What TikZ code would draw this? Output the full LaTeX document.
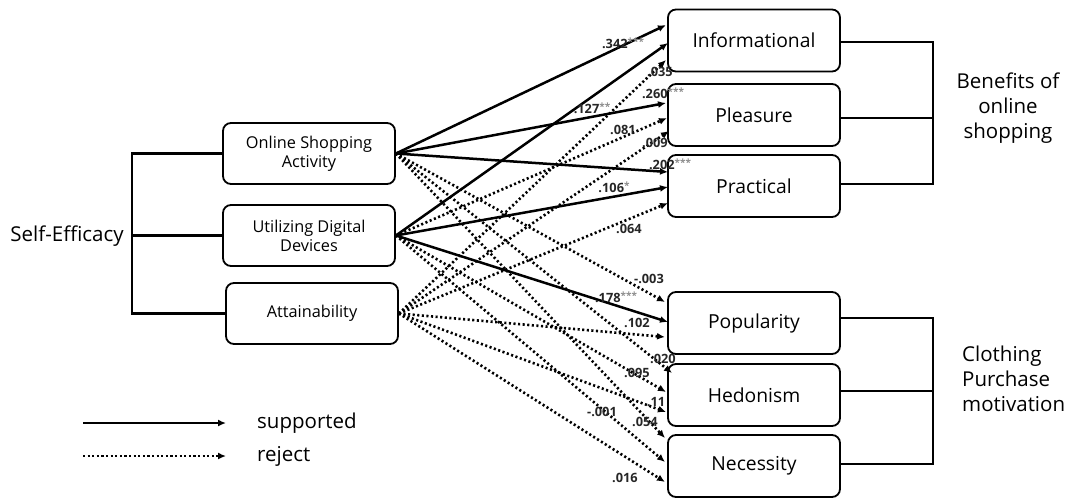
\documentclass[tikz,border=0pt]{standalone}
\usepackage{fontspec}
\setmainfont{Open Sans}
\usetikzlibrary{arrows.meta}
\begin{document}
\begin{tikzpicture}[x=1pt,y=-1pt,
  lbox/.style={draw,line width=1.8pt,rounded corners=8pt,minimum width=172pt,minimum height=61pt,inner sep=0pt,align=center,font=\fontsize{16.3}{19}\selectfont},
  rbox/.style={draw,line width=1.8pt,rounded corners=8pt,minimum width=172pt,minimum height=62pt,inner sep=0pt,font=\fontsize{19.3}{22}\selectfont},
  bigtxt/.style={font=\fontsize{20.5}{25}\selectfont,inner sep=0pt},
  sup/.style={line width=2.5pt,-{Latex[length=8pt,width=7pt]}},
  rej/.style={line width=2.6pt,dash pattern=on 2.1pt off 2.5pt,-{Latex[length=8pt,width=7pt]}},
  brk/.style={line width=2.3pt},
  elab/.style={font=\bfseries\fontsize{12.8}{14}\selectfont,inner sep=0pt,text=black!85}
]
\useasboundingbox (0,0) rectangle (1065,499);
\newcommand{\st}[1]{\raisebox{3pt}{\fontsize{10}{10}\selectfont\textcolor{black!45}{#1}}}
% left boxes
\node[lbox] (osa) at (309,153.5) {Online Shopping\\Activity};
\node[lbox] (udd) at (309,235.5) {Utilizing Digital\\Devices};
\node[lbox] (att) at (312,313.5) {Attainability};
\node[bigtxt] (se) at (67,236) {Self-Efficacy};
\coordinate (lb) at (132,236);
\draw[brk] (osa.west) -| (lb) |- (att.west);
\draw[brk] (udd.west) -- (udd.west -| lb);
% right boxes
\node[rbox] (inf) at (754,40.5) {Informational};
\node[rbox] (ple) at (754,115) {Pleasure};
\node[rbox] (pra) at (754,186) {Practical};
\node[rbox] (pop) at (754,323) {Popularity};
\node[rbox] (hed) at (754,395) {Hedonism};
\node[rbox] (nec) at (754,466) {Necessity};
\coordinate (rb1) at (933,118);
\coordinate (infe) at (840,42);
\coordinate (plee) at (840,118);
\coordinate (prae) at (840,184);
\draw[brk] (infe) -| (rb1) |- (prae);
\draw[brk] (plee) -- (rb1);
\coordinate (pope) at (840,318);
\coordinate (hede) at (840,391);
\coordinate (nece) at (840,464);
\coordinate (rb2) at (933,391);
\draw[brk] (pope) -| (rb2) |- (nece);
\draw[brk] (hede) -- (rb2);
\node[bigtxt,align=center] (ben) at (1008,108) {Benefits of\\online\\shopping};
\node[bigtxt,align=left,anchor=west] (clo) at (962,379) {Clothing\\Purchase\\motivation};
% target points
\coordinate (inf1) at (666,25);  \coordinate (inf2) at (668,43);  \coordinate (inf3) at (666,60);
\coordinate (ple1) at (666,103); \coordinate (ple2) at (667,118); \coordinate (ple3) at (669,131);
\coordinate (pra1) at (668,172); \coordinate (pra2) at (668,187); \coordinate (pra3) at (668,203);
\coordinate (pop1) at (665,302); \coordinate (pop2) at (668,322); \coordinate (pop3) at (665,337);
\coordinate (hed1) at (672,373); \coordinate (hed2) at (666,392); \coordinate (hed3) at (666,412);
\coordinate (nec1) at (665,438); \coordinate (nec2) at (665,462); \coordinate (nec3) at (665,482);
% dotted (rejected)
\draw[rej] (att.east) -- (inf3);
\draw[rej] (udd.east) -- (ple2);
\draw[rej] (att.east) -- (ple3);
\draw[rej] (att.east) -- (pra3);
\draw[rej] (osa.east) -- (pop1);
\draw[rej] (att.east) -- (pop3);
\draw[rej] (osa.east) -- (hed1);
\draw[rej] (udd.east) -- (hed2);
\draw[rej] (att.east) -- (hed3);
\draw[rej] (osa.east) -- (nec1);
\draw[rej] (udd.east) -- (nec2);
\draw[rej] (att.east) -- (nec3);
% solid (supported)
\draw[sup] (osa.east) -- (inf1);
\draw[sup] (udd.east) -- (inf2);
\draw[sup] (osa.east) -- (ple1);
\draw[sup] (osa.east) -- (pra1);
\draw[sup] (udd.east) -- (pra2);
\draw[sup] (udd.east) -- (pop2);
% labels
\node[elab] (l1) at (623,43) {.342\st{***}};
\node[elab] (l2) at (592,108) {.127\st{**}};
\node[elab] (l3) at (660,72) {.035};
\node[elab] (l4) at (663,93) {.260\st{***}};
\node[elab] (l5) at (623,130) {.081};
\node[elab] (l6) at (655,143) {.009};
\node[elab] (l7) at (670,164) {.202\st{***}};
\node[elab] (l8) at (614,187) {.106\st{*}};
\node[elab] (l9) at (629,229) {.064};
\node[elab] (l10) at (649,279) {-.003};
\node[elab] (l11) at (616,297) {.178\st{***}};
\node[elab] (l12) at (637,323) {.102};
\node[elab] (l13) at (663,359) {.020};
\node[elab] (l14) at (637,373) {.095};
\node[elab] (l15) at (656,402) {.11};
\node[elab] (l16) at (602,412) {-.001};
\node[elab] (l17) at (645,422) {.054};
\node[elab] (l18) at (625,478) {.016};
% legend
\coordinate (la1) at (83,423); \coordinate (lb1) at (226,423);
\coordinate (la2) at (83,456); \coordinate (lb2) at (226,456);
\draw[sup,line width=2.2pt] (la1) -- (lb1);
\draw[rej,line width=2.3pt] (la2) -- (lb2);
\node[bigtxt,anchor=west] (ls) at (257,423) {supported};
\node[bigtxt,anchor=west] (lr) at (257,456) {reject};
\end{tikzpicture}
\end{document}
